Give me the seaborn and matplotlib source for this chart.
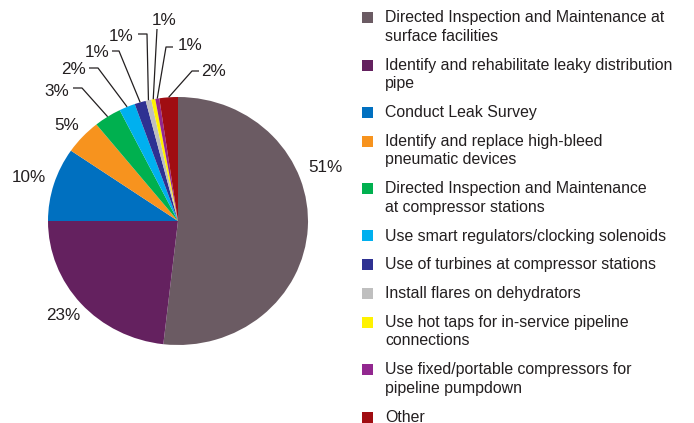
import math
import matplotlib
matplotlib.use("Agg")
import matplotlib.pyplot as plt
import seaborn as sns
from matplotlib.patches import Rectangle
from matplotlib import font_manager

# ---- data ----
categories = [
    "Directed Inspection and Maintenance at\nsurface facilities",
    "Identify and rehabilitate leaky distribution\npipe",
    "Conduct Leak Survey",
    "Identify and replace high-bleed\npneumatic devices",
    "Directed Inspection and Maintenance\nat compressor stations",
    "Use smart regulators/clocking solenoids",
    "Use of turbines at compressor stations",
    "Install flares on dehydrators",
    "Use hot taps for in-service pipeline\nconnections",
    "Use fixed/portable compressors for\npipeline pumpdown",
    "Other",
]
shares = [51.8, 23.2, 9.6, 4.6, 3.4, 2.0, 1.4, 0.7, 0.5, 0.5, 2.3]
pct_labels = ["51%", "23%", "10%", "5%", "3%", "2%", "1%", "1%", "1%", "1%", "2%"]
colors = ["#6b5b63", "#64215f", "#0070c0", "#f7931e", "#00b04f", "#00b0ef",
          "#2e3192", "#bfbfbf", "#fff200", "#92278f", "#a00d12"]

# ---- style ----
sns.set_theme(style="white")
names = {f.name for f in font_manager.fontManager.ttflist}
main_font = "Liberation Sans Narrow" if "Liberation Sans Narrow" in names else "Liberation Sans"
plt.rcParams["font.family"] = [main_font, "DejaVu Sans"]
TXT = "#231f20"
FS_PCT = 12.3
FS_LEG = 11.4 if main_font == "Liberation Sans" else 12.3

W, H = 694, 423
CX, CY, RX, RY = 178.0, 221.0, 130.0, 124.0


def px(x, y):
    return ((x - CX) / RX, (CY - y) / RY)


fig = plt.figure(figsize=(W / 100, H / 100), dpi=100)
ax = fig.add_axes([0, 0, 1, 1])
wedges, _ = ax.pie(shares, colors=colors, startangle=90, counterclock=False,
                   radius=1.0, center=(0, 0), wedgeprops=dict(linewidth=0))
ax.set_aspect("auto")
ax.set_xlim(px(0, 0)[0], px(W, 0)[0])
ax.set_ylim(px(0, H)[1], px(0, 0)[1])
ax.axis("off")

# percentage labels: (text centre, leader start, leader knee) in pixels
label_layout = [
    ((325, 167), None, None),
    ((63, 315), None, None),
    ((29, 178), None, None),
    ((67, 126), None, None),
    ((57, 92), (73, 88), (82, 88)),
    ((73, 70), (89, 68), (98, 68)),
    ((97.5, 53), (112, 51), (119, 51)),
    ((121, 37), (138, 34), (147, 34)),
    ((164, 21), (157, 29), (157, 29)),
    ((190, 46), (173, 47), (166, 47)),
    ((213.5, 72), (199, 71), (192, 71)),
]
for w, lab, (tpos, start, knee) in zip(wedges, pct_labels, label_layout):
    tx, ty = px(*tpos)
    ax.text(tx, ty, lab, ha="center", va="center", fontsize=FS_PCT, color=TXT)
    if start is not None:
        th = math.radians((w.theta1 + w.theta2) / 2)
        ex, ey = math.cos(th), math.sin(th)
        sx, sy = px(*start)
        kx, ky = px(*knee)
        ax.plot([sx, kx, ex], [sy, ky, ey], color="#231f20", lw=0.9,
                solid_capstyle="butt")

# legend drawn manually
y = 18.0
LINE, GAP = 18.5, 28.8
for cat, col in zip(categories, colors):
    lines = cat.split("\n")
    x0, y0 = px(362, y + 5.5)
    ax.add_patch(Rectangle((x0, y0), 11 / RX, 11 / RY, facecolor=col,
                           edgecolor="none"))
    for k, line in enumerate(lines):
        lx, ly = px(385, y + k * LINE)
        ax.text(lx, ly, line, ha="left", va="center", fontsize=FS_LEG, color=TXT)
    y += (len(lines) - 1) * LINE + GAP

fig.savefig("out.png", dpi=100)
